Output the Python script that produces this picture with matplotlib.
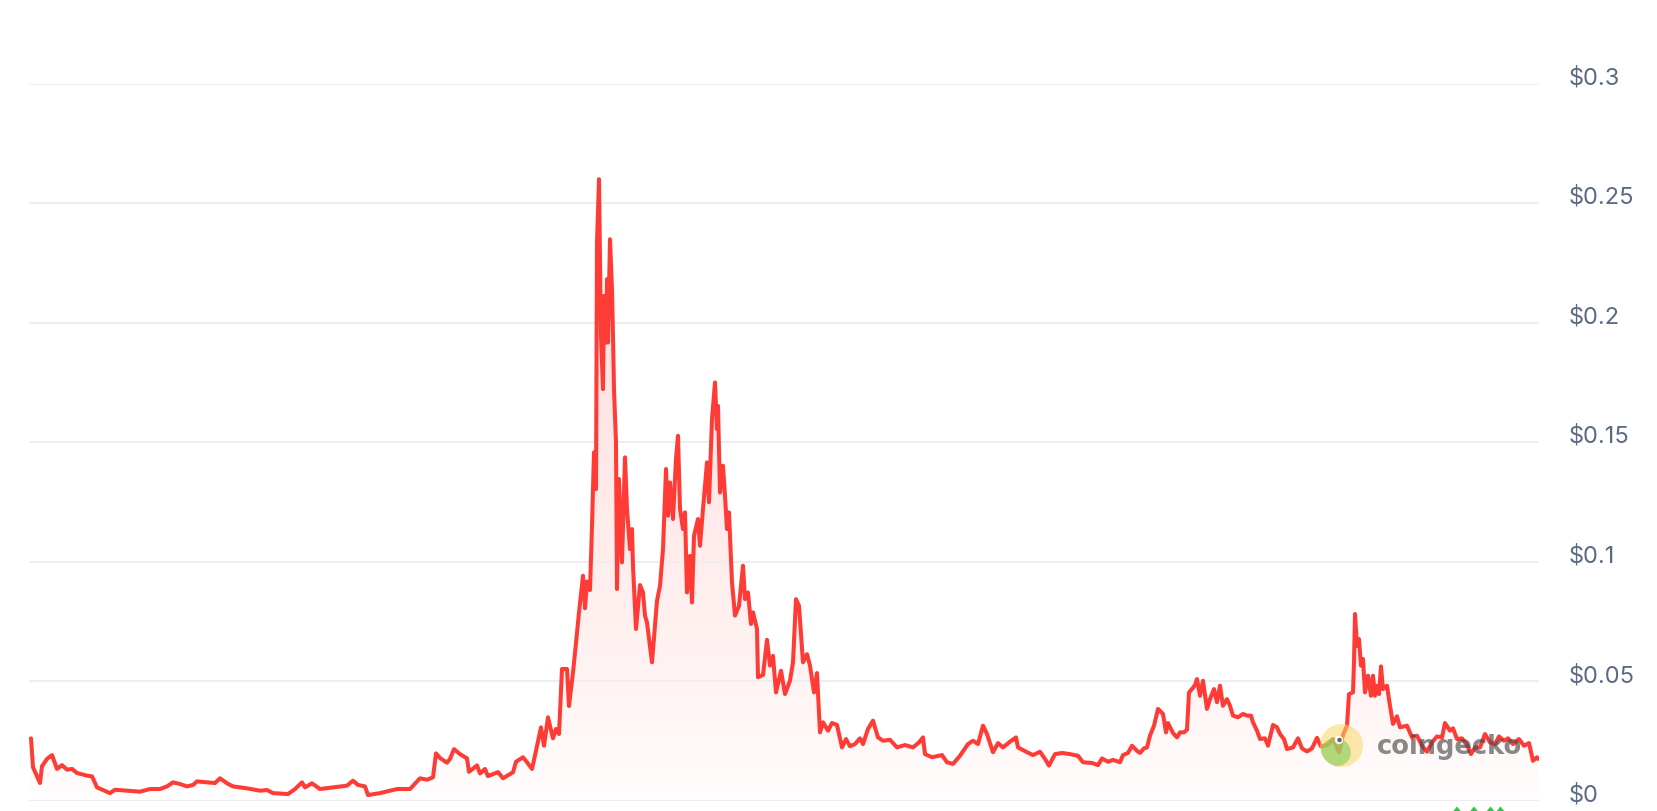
import numpy as np
import matplotlib
matplotlib.use("Agg")
import matplotlib.pyplot as plt
from matplotlib.patches import Circle, Ellipse, Polygon
from matplotlib.transforms import ScaledTranslation

# ---------------- data ----------------
days = [1, 3, 10, 12, 17, 22, 27, 32, 37, 42,
        47, 57, 62, 67, 73, 80, 85, 97, 110, 120,
        130, 137, 143, 150, 157, 163, 167, 177, 185, 190,
        197, 203, 217, 230, 237, 243, 258, 265, 272, 275,
        282, 290, 303, 317, 323, 328, 335, 338, 350, 367,
        380, 390, 397, 403, 406, 410, 417, 420, 424, 430,
        437, 439, 447, 450, 455, 458, 468, 473, 483, 486,
        493, 497, 502, 506, 511, 514, 518, 523, 526, 529,
        532, 537, 539, 543, 546, 549, 553, 555, 557, 560,
        562, 564, 566, 567, 569, 571, 573, 574, 576, 577,
        578, 580, 582, 583, 584, 586, 587, 589, 592, 595,
        597, 600, 602, 603, 606, 610, 613, 615, 617, 622,
        627, 630, 633, 636, 638, 640, 643, 646, 648, 650,
        653, 655, 657, 660, 662, 664, 668, 670, 673, 677,
        679, 682, 685, 687, 688, 690, 693, 695, 697, 699,
        702, 705, 709, 713, 715, 718, 721, 723, 727, 728,
        733, 737, 740, 743, 746, 751, 755, 760, 763, 766,
        769, 773, 777, 780, 784, 787, 790, 793, 798, 802,
        807, 812, 816, 820, 825, 830, 833, 838, 843, 848,
        853, 860, 867, 875, 883, 889, 893, 895, 902, 912,
        917, 923, 930, 938, 943, 948, 953, 957, 963, 968,
        973, 980, 986, 988, 997, 1003, 1010, 1015, 1019, 1025,
        1032, 1040, 1048, 1053, 1062, 1068, 1072, 1078, 1083, 1090,
        1093, 1098, 1102, 1107, 1110, 1114, 1117, 1120, 1124, 1128,
        1133, 1136, 1138, 1143, 1147, 1150, 1154, 1157, 1159, 1162,
        1165, 1167, 1170, 1173, 1177, 1180, 1184, 1187, 1190, 1193,
        1197, 1200, 1203, 1208, 1213, 1217, 1221, 1223, 1227, 1230,
        1235, 1238, 1243, 1247, 1250, 1254, 1257, 1263, 1268, 1272,
        1277, 1282, 1287, 1291, 1298, 1303, 1309, 1313, 1317, 1319,
        1323, 1324, 1325, 1327, 1329, 1331, 1333, 1335, 1338, 1341,
        1343, 1345, 1347, 1349, 1351, 1353, 1357, 1360, 1363, 1367,
        1370, 1377, 1382, 1387, 1392, 1397, 1402, 1407, 1412, 1415,
        1420, 1423, 1427, 1432, 1437, 1441, 1445, 1450, 1455, 1460,
        1465, 1469, 1474, 1478, 1483, 1489, 1494, 1499, 1503, 1507,
        1508]

prices = [0.0262, 0.0141, 0.0075, 0.0145, 0.0176, 0.0192, 0.0134, 0.0150, 0.0131, 0.0134,
          0.0117, 0.0106, 0.0103, 0.0057, 0.0046, 0.0033, 0.0047, 0.0043, 0.0039, 0.0050,
          0.0050, 0.0061, 0.0078, 0.0071, 0.0061, 0.0067, 0.0082, 0.0078, 0.0075, 0.0095,
          0.0074, 0.0061, 0.0053, 0.0043, 0.0046, 0.0033, 0.0029, 0.0050, 0.0078, 0.0057,
          0.0074, 0.0050, 0.0057, 0.0064, 0.0085, 0.0067, 0.0061, 0.0025, 0.0033, 0.0050,
          0.0050, 0.0095, 0.0089, 0.0099, 0.0199, 0.0180, 0.0160, 0.0176, 0.0217, 0.0196,
          0.0178, 0.0122, 0.0149, 0.0115, 0.0134, 0.0104, 0.0121, 0.0095, 0.0120, 0.0164,
          0.0183, 0.0162, 0.0134, 0.0210, 0.0308, 0.0231, 0.0350, 0.0262, 0.0301, 0.0280,
          0.0552, 0.0552, 0.0397, 0.0538, 0.0660, 0.0789, 0.0942, 0.0806, 0.0918, 0.0882,
          0.1151, 0.1458, 0.1304, 0.2335, 0.2600, 0.1945, 0.1722, 0.2112, 0.1917, 0.2182,
          0.1917, 0.2349, 0.2140, 0.1945, 0.1722, 0.1500, 0.0886, 0.1346, 0.0998, 0.1437,
          0.1221, 0.1053, 0.1137, 0.0984, 0.0719, 0.0903, 0.0872, 0.0775, 0.0747, 0.0580,
          0.0837, 0.0900, 0.1053, 0.1388, 0.1193, 0.1332, 0.1179, 0.1430, 0.1527, 0.1221,
          0.1137, 0.1207, 0.0872, 0.1025, 0.0830, 0.1109, 0.1179, 0.1067, 0.1221, 0.1416,
          0.1249, 0.1597, 0.1750, 0.1555, 0.1652, 0.1290, 0.1402, 0.1276, 0.1137, 0.1207,
          0.0914, 0.0775, 0.0816, 0.0984, 0.0844, 0.0872, 0.0740, 0.0789, 0.0719, 0.0517,
          0.0527, 0.0674, 0.0566, 0.0607, 0.0454, 0.0545, 0.0447, 0.0503, 0.0580, 0.0844,
          0.0816, 0.0580, 0.0614, 0.0566, 0.0454, 0.0535, 0.0287, 0.0329, 0.0294, 0.0326,
          0.0318, 0.0224, 0.0259, 0.0229, 0.0238, 0.0262, 0.0238, 0.0301, 0.0336, 0.0266,
          0.0252, 0.0256, 0.0224, 0.0234, 0.0224, 0.0245, 0.0266, 0.0196, 0.0183, 0.0192,
          0.0162, 0.0155, 0.0189, 0.0238, 0.0252, 0.0238, 0.0315, 0.0280, 0.0204, 0.0242,
          0.0224, 0.0248, 0.0266, 0.0224, 0.0204, 0.0192, 0.0206, 0.0176, 0.0148, 0.0196,
          0.0201, 0.0196, 0.0189, 0.0162, 0.0159, 0.0150, 0.0178, 0.0164, 0.0172, 0.0162,
          0.0192, 0.0201, 0.0231, 0.0210, 0.0201, 0.0220, 0.0224, 0.0273, 0.0315, 0.0385,
          0.0364, 0.0287, 0.0326, 0.0284, 0.0266, 0.0287, 0.0287, 0.0298, 0.0454, 0.0468,
          0.0485, 0.0510, 0.0440, 0.0503, 0.0385, 0.0426, 0.0468, 0.0413, 0.0482, 0.0398,
          0.0426, 0.0398, 0.0357, 0.0350, 0.0364, 0.0357, 0.0357, 0.0329, 0.0294, 0.0259,
          0.0262, 0.0231, 0.0318, 0.0308, 0.0280, 0.0259, 0.0217, 0.0224, 0.0262, 0.0220,
          0.0207, 0.0220, 0.0264, 0.0228, 0.0235, 0.0259, 0.0204, 0.0276, 0.0315, 0.0447,
          0.0454, 0.0580, 0.0782, 0.0649, 0.0677, 0.0566, 0.0594, 0.0454, 0.0524, 0.0440,
          0.0524, 0.0440, 0.0482, 0.0447, 0.0563, 0.0468, 0.0482, 0.0398, 0.0322, 0.0354,
          0.0308, 0.0315, 0.0266, 0.0273, 0.0231, 0.0206, 0.0245, 0.0270, 0.0266, 0.0326,
          0.0294, 0.0304, 0.0259, 0.0262, 0.0234, 0.0196, 0.0224, 0.0224, 0.0280, 0.0245,
          0.0238, 0.0270, 0.0252, 0.0262, 0.0238, 0.0259, 0.0231, 0.0242, 0.0168, 0.0183,
          0.0176]

n = min(len(days), len(prices))
days = days[:n]
prices = prices[:n]

y_ticks = [0, 0.05, 0.1, 0.15, 0.2, 0.25, 0.3]
y_tick_labels = ["$0", "$0.05", "$0.1", "$0.15", "$0.2", "$0.25", "$0.3"]

# ---------------- figure ----------------
W, H, DPI = 1658, 812, 100
fig = plt.figure(figsize=(W / DPI, H / DPI), dpi=DPI, facecolor="white")
ax = fig.add_axes([29 / W, (H - 802) / H, (1539 - 29) / W, (802 - 84.5) / H])
ax.set_facecolor("none")

line_color = "#ff3b35"
x = np.array(days, dtype=float)
y = np.array(prices, dtype=float)

x_lo, x_hi = -1, 1509
ax.set_xlim(x_lo, x_hi)
ax.set_ylim(0, 0.3)

# gradient fill under the curve
poly = ax.fill_between(x, y, 0, color="none", lw=0)
grad_h = 256
vals = np.linspace(0.3, 0, grad_h)
alpha = 0.005 + 0.17 * np.clip(vals / 0.26, 0, 1) ** 0.7
rgba = np.zeros((grad_h, 2, 4))
rgba[..., 0] = 1.0
rgba[..., 1] = 0x3b / 255
rgba[..., 2] = 0x35 / 255
rgba[..., 3] = alpha[:, None]
img = ax.imshow(rgba, extent=[x_lo, x_hi, 0, 0.3], aspect="auto",
                origin="upper", zorder=1, interpolation="bilinear")
img.set_clip_path(poly.get_paths()[0], transform=ax.transData)

ax.plot(x, y, color=line_color, lw=2.9, zorder=3, solid_joinstyle="round",
        solid_capstyle="round")

# grid and ticks
ax.set_yticks(y_ticks)
ax.set_yticklabels(y_tick_labels)
ax.yaxis.tick_right()
ax.grid(axis="y", color="#eeeef2", lw=1.4, zorder=0)
ax.set_xticks([])
for s in ax.spines.values():
    s.set_visible(False)
ax.tick_params(axis="y", length=0, pad=21.5, labelsize=17, labelcolor="#5b6a84")
off = ScaledTranslation(0, 9 / DPI, fig.dpi_scale_trans)
for lab in ax.get_yticklabels():
    lab.set_fontfamily(["Inter", "DejaVu Sans"])
    lab.set_transform(lab.get_transform() + off)

# ---------------- watermark overlay (pixel coordinates) ----------------
ov = fig.add_axes([0, 0, 1, 1], zorder=5)
ov.set_xlim(0, W)
ov.set_ylim(H, 0)
ov.axis("off")
ov.patch.set_alpha(0)

ring = Circle((1341.5, 746.5), 21.5, color="#f9d866", alpha=0.55, lw=0)
ov.add_patch(ring)
blob = Ellipse((1336, 753), 30, 28, angle=20, color="#7fcf5c", alpha=0.6, lw=0)
blob.set_clip_path(ring)
ov.add_patch(blob)
ov.add_patch(Circle((1339, 741), 4.2, color="white", alpha=0.9, lw=0))
ov.add_patch(Circle((1339.5, 741), 2.2, color="#3a3a3a", alpha=0.8, lw=0))
ov.text(1377, 747, "coingecko", fontsize=18.5, fontweight="bold",
        color="#4a4a4a", alpha=0.65, va="center", ha="left",
        family=["DejaVu Sans"])

# small green arrows cut off at the bottom edge
for cx in [1457, 1474, 1490.5, 1500.5]:
    ov.add_patch(Polygon([[cx - 4.5, 813], [cx, 807.5], [cx + 4.5, 813]],
                         closed=True, color="#2fc64f", lw=0))

fig.savefig("out.png", dpi=DPI, facecolor="white")
